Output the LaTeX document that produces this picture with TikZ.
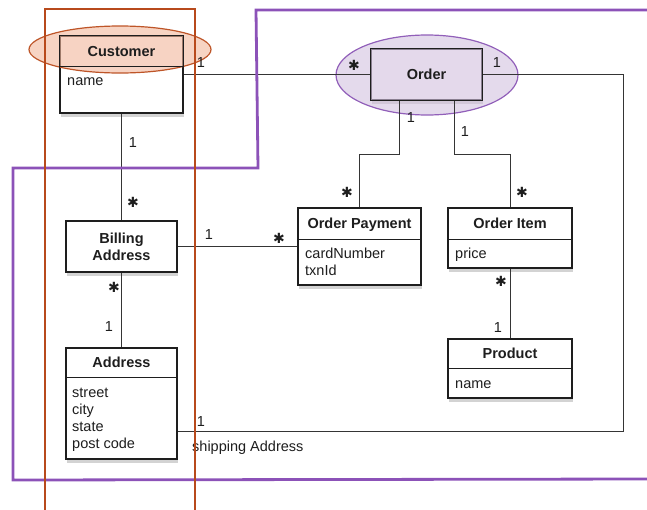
\documentclass[tikz,border=0pt]{standalone}
\usepackage{fontspec}
\setmainfont{Liberation Sans}
\newfontfamily\symfont{DejaVu Sans}
\usetikzlibrary{shadows,shapes.geometric}
\definecolor{orng}{RGB}{184,74,28}
\definecolor{purp}{RGB}{140,82,184}
\definecolor{peachfill}{RGB}{242,183,155}
\definecolor{lilacfill}{RGB}{210,193,223}
\definecolor{ellorng}{RGB}{190,85,40}
\definecolor{ellpurp}{RGB}{145,95,185}
\definecolor{ink}{RGB}{30,30,30}
\begin{document}
\begin{tikzpicture}[x=1pt,y=-1pt,
  font=\fontsize{14.5}{17}\selectfont, text=ink,
  classbox/.style={draw=ink, line width=1.2pt, fill=white, inner sep=0pt,
    drop shadow={shadow xshift=1pt, shadow yshift=-3.5pt, opacity=0.35}},
  outline/.style={draw=ink, line width=1.2pt},
  divider/.style={draw=ink, line width=1pt},
  ttl/.style={font=\fontsize{14.5}{17}\selectfont\bfseries, inner sep=0pt, anchor=base},
  attr/.style={inner sep=0pt, anchor=base west},
  mult/.style={inner sep=0pt},
  star/.style={inner sep=0pt, font=\symfont\fontsize{14}{14}\selectfont},
  conn/.style={draw=ink!90, line width=1pt},
  hilite/.style={ellipse, inner sep=0pt, line width=1.2pt, fill opacity=0.6},
  frameline/.style={line width=2.8pt, line join=miter}
]
\useasboundingbox (0,0) rectangle (647,509);

% class boxes
\node[classbox, minimum width=123pt, minimum height=77pt] (cust) at (121.5,74.5) {};
\node[classbox, minimum width=111pt, minimum height=51pt] (order) at (426.5,74.5) {};
\node[classbox, minimum width=111pt, minimum height=51pt] (billing) at (121.5,246.5) {};
\node[classbox, minimum width=111pt, minimum height=111pt] (address) at (121.5,403.5) {};
\node[classbox, minimum width=123pt, minimum height=77pt] (payment) at (359.5,246.5) {};
\node[classbox, minimum width=124pt, minimum height=60pt] (item) at (510,238) {};
\node[classbox, minimum width=124pt, minimum height=59pt] (product) at (510,368.5) {};

% highlight ellipses (tint over the two highlighted classes)
\node[hilite, draw=ellorng, fill=peachfill, minimum width=182pt, minimum height=47pt] (custE) at (120,49.5) {};
\node[hilite, draw=ellpurp, fill=lilacfill, minimum width=182pt, minimum height=80pt] (orderE) at (427,75) {};

% outlines of the highlighted classes, above the tint
\draw[outline] (cust.north west) rectangle (cust.south east);
\draw[outline] (order.north west) rectangle (order.south east);

% compartment dividers
\draw[divider] (cust.west |- 0,66) -- (cust.east |- 0,66);
\draw[divider] (payment.west |- 0,239) -- (payment.east |- 0,239);
\draw[divider] (item.west |- 0,239) -- (item.east |- 0,239);
\draw[divider] (product.west |- 0,368) -- (product.east |- 0,368);
\draw[divider] (address.west |- 0,377) -- (address.east |- 0,377);

% titles
\node[ttl] (custT) at (121.5,56) {Customer};
\node[ttl] (orderT) at (426.5,79.5) {Order};
\node[ttl] (billT1) at (121.5,243) {Billing};
\node[ttl] (billT2) at (121.5,260) {Address};
\node[ttl] (addrT) at (121.5,367.5) {Address};
\node[ttl] (payT) at (359.5,228.5) {Order Payment};
\node[ttl] (itemT) at (510,228.5) {Order Item};
\node[ttl] (prodT) at (510,358.5) {Product};

% attributes
\node[attr] (custA) at (67,85.5) {name};
\node[attr] (payA1) at (305,258) {cardNumber};
\node[attr] (payA2) at (305,275) {txnId};
\node[attr] (itemA) at (455,258) {price};
\node[attr] (prodA) at (455,388) {name};
\node[attr] (addrA1) at (72,397.5) {street};
\node[attr] (addrA2) at (72,414.5) {city};
\node[attr] (addrA3) at (72,431.5) {state};
\node[attr] (addrA4) at (72,448.5) {post code};

% connectors
\coordinate (turn) at (623,74.5);
\draw[conn] (cust.east) -- (order.west);
\draw[conn] ([xshift=-27.5pt]order.south) -- ++(0,54) -| (payment.north);
\draw[conn] ([xshift=27.5pt]order.south) -- ++(0,54) -| (item.north);
\draw[conn] (order.east) -- (turn) |- ([yshift=-27.5pt]address.east);
\draw[conn] (cust.south) -- (billing.north);
\draw[conn] (billing.south) -- (address.north);
\draw[conn] (billing.east) -- (payment.west);
\draw[conn] (item.south) -- (product.north);

% multiplicities
\node[mult] (m1) at (201,63) {1};
\node[star] (m2) at (354,65) {✱};
\node[mult] (m3) at (497,63) {1};
\node[mult] (m4) at (411,118) {1};
\node[mult] (m5) at (465,132) {1};
\node[star] (m6) at (347,192) {✱};
\node[star] (m7) at (522,192) {✱};
\node[mult] (m8) at (133,142.5) {1};
\node[star] (m9) at (133,202) {✱};
\node[mult] (m10) at (209,235) {1};
\node[star] (m11) at (279,238) {✱};
\node[star] (m12) at (114,287) {✱};
\node[mult] (m13) at (109,327) {1};
\node[star] (m14) at (501,281) {✱};
\node[mult] (m15) at (498,328) {1};
\node[mult] (m16) at (201,422) {1};
\node[attr] (shipL) at (192,451) {shipping Address};

% grouping frames
\draw[frameline, purp] (650,10) -- (256,10) -- (258,168) -- (13,168) -- (13,480) -- (650,479);
\draw[frameline, orng] (45,512) -- (45,9) -- (195,9) -- (195,512);
\end{tikzpicture}
\end{document}
